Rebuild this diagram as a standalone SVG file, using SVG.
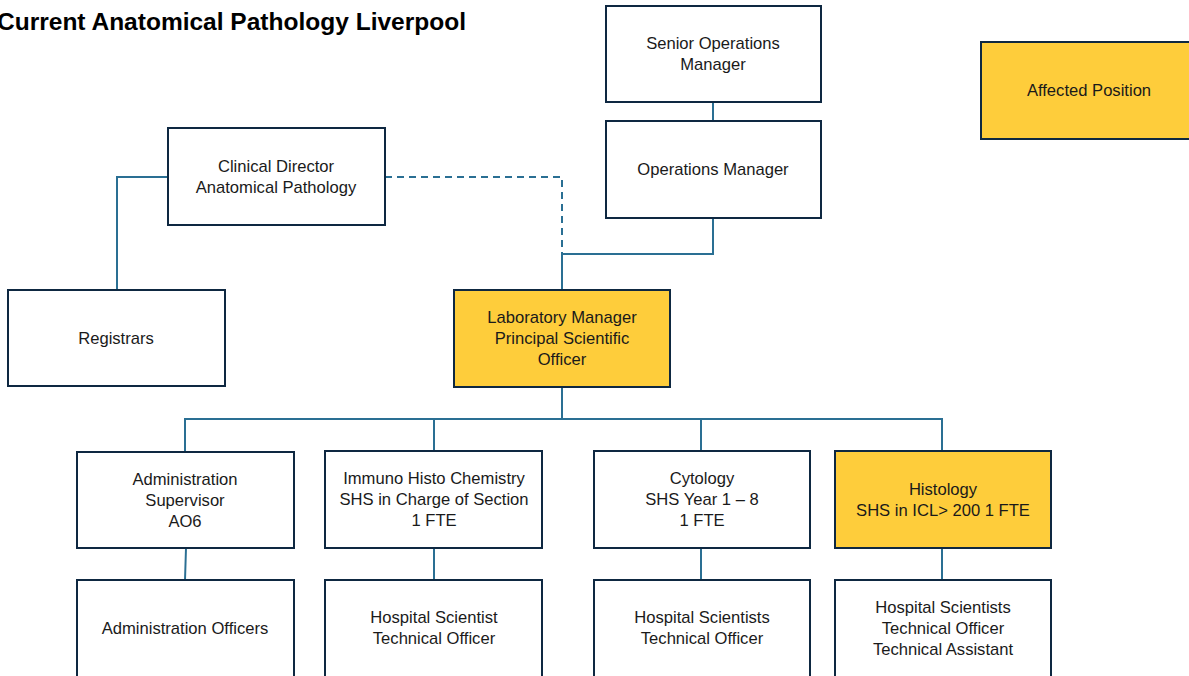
<svg xmlns="http://www.w3.org/2000/svg" width="1189" height="676" viewBox="0 0 1189 676">
<style>
.box{fill:#ffffff;stroke:#0e2841;stroke-width:2}
.hl{fill:#fecd3b;stroke:#0e2841;stroke-width:2}
.t{font-family:"Liberation Sans",Arial,sans-serif;font-size:16.6px;fill:#1a1a1a;text-anchor:middle}
.title{font-family:"Liberation Sans",Arial,sans-serif;font-size:24px;font-weight:bold;fill:#000000}
.c{fill:none;stroke:#2a6f93;stroke-width:2}
.d{fill:none;stroke:#2a6f93;stroke-width:2;stroke-dasharray:7 5}
</style>
<rect width="1189" height="676" fill="#ffffff"/>
<text class="title" x="-3" y="30" textLength="469" lengthAdjust="spacingAndGlyphs">Current Anatomical Pathology Liverpool</text>
<g id="connectors">
<path class="c" d="M713 102V121"/>
<path class="c" d="M713 218V254H562V290"/>
<path class="d" d="M385 177H562V254"/>
<path class="c" d="M168 177H117V290"/>
<path class="c" d="M562 387V419"/>
<path class="c" d="M185 451V419H942V451"/>
<path class="c" d="M434 419V451"/>
<path class="c" d="M701 419V451"/>
<path class="c" d="M186 548L185 580"/>
<path class="c" d="M434 548V580"/>
<path class="c" d="M701 548V580"/>
<path class="c" d="M942 548V580"/>
</g>
<g id="senior-ops"><rect class="box" x="606" y="6" width="215" height="96"/><text class="t" x="713" y="49">Senior Operations</text><text class="t" x="713" y="70">Manager</text></g>
<g id="ops-manager"><rect class="box" x="606" y="121" width="215" height="97"/><text class="t" x="713" y="175">Operations Manager</text></g>
<g id="affected"><rect class="hl" x="981" y="42" width="214" height="97"/><text class="t" x="1089" y="96">Affected Position</text></g>
<g id="clinical-director"><rect class="box" x="168" y="128" width="217" height="97"/><text class="t" x="276" y="172">Clinical Director</text><text class="t" x="276" y="193">Anatomical Pathology</text></g>
<g id="registrars"><rect class="box" x="8" y="290" width="217" height="96"/><text class="t" x="116" y="344">Registrars</text></g>
<g id="lab-manager"><rect class="hl" x="454" y="290" width="216" height="97"/><text class="t" x="562" y="323">Laboratory Manager</text><text class="t" x="562" y="344">Principal Scientific</text><text class="t" x="562" y="365">Officer</text></g>
<g id="admin-supervisor"><rect class="box" x="77" y="452" width="217" height="96"/><text class="t" x="185" y="485">Administration</text><text class="t" x="185" y="506">Supervisor</text><text class="t" x="185" y="527">AO6</text></g>
<g id="ihc"><rect class="box" x="325" y="451" width="217" height="97"/><text class="t" x="434" y="484">Immuno Histo Chemistry</text><text class="t" x="434" y="505">SHS in Charge of Section</text><text class="t" x="434" y="526">1 FTE</text></g>
<g id="cytology"><rect class="box" x="594" y="451" width="216" height="97"/><text class="t" x="702" y="484">Cytology</text><text class="t" x="702" y="505">SHS Year 1 – 8</text><text class="t" x="702" y="526">1 FTE</text></g>
<g id="histology"><rect class="hl" x="835" y="451" width="216" height="97"/><text class="t" x="943" y="495">Histology</text><text class="t" x="943" y="516">SHS in ICL&gt; 200 1 FTE</text></g>
<g id="admin-officers"><rect class="box" x="77" y="580" width="217" height="97"/><text class="t" x="185" y="634">Administration Officers</text></g>
<g id="ihc-staff"><rect class="box" x="325" y="580" width="217" height="97"/><text class="t" x="434" y="623">Hospital Scientist</text><text class="t" x="434" y="644">Technical Officer</text></g>
<g id="cyto-staff"><rect class="box" x="594" y="580" width="216" height="97"/><text class="t" x="702" y="623">Hospital Scientists</text><text class="t" x="702" y="644">Technical Officer</text></g>
<g id="histo-staff"><rect class="box" x="835" y="580" width="216" height="97"/><text class="t" x="943" y="613">Hospital Scientists</text><text class="t" x="943" y="634">Technical Officer</text><text class="t" x="943" y="655">Technical Assistant</text></g>
</svg>
